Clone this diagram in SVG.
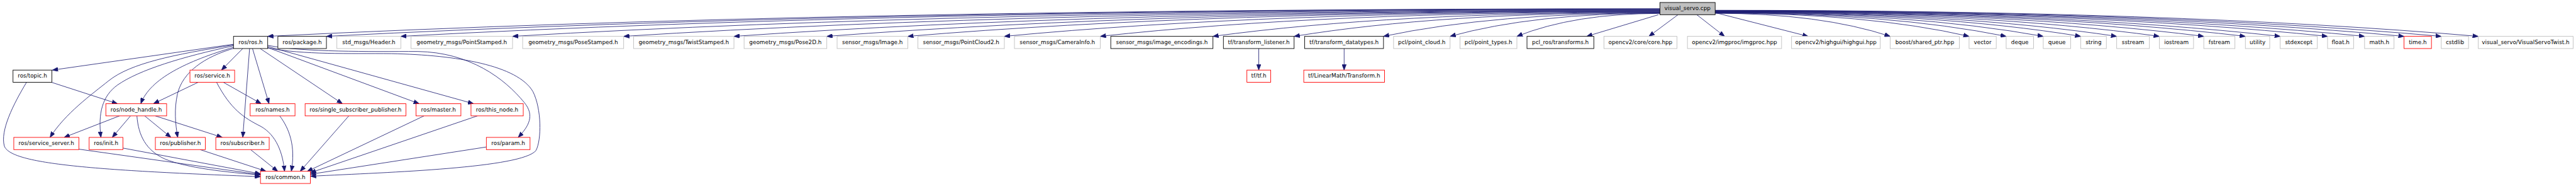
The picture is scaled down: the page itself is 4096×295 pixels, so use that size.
<svg xmlns="http://www.w3.org/2000/svg" width="4096" height="295" viewBox="0 0 4096 295">
<defs>
<style>
.n rect{fill:#fff;stroke-width:1.3}
.b rect{stroke:#000}
.r rect{stroke:#ff0000}
.g rect{stroke:#bfbfbf}
.root rect{fill:#bfbfbf;stroke:#000}
.n text{font-family:"DejaVu Sans","Liberation Sans",sans-serif;font-size:12.8px;text-anchor:middle;fill:#000}
.e path{fill:none;stroke:#191970;stroke-width:1.2;marker-end:url(#ah)}
</style>
<marker id="ah" viewBox="0 0 13 10" refX="13" refY="5" markerWidth="13" markerHeight="10" orient="auto" markerUnits="userSpaceOnUse"><path d="M0,0L13,5L0,10z" fill="#191970" stroke="#191970" stroke-width="1"/></marker>
</defs>
<rect width="4096" height="295" fill="#fff"/>
<g transform="scale(0.69178)">
<g id="edges" class="e">
<path d="M3815.3,20 Q1895.3,20 615.3,83.3"/>
<path d="M3815.3,20.5 Q1976.3,20.5 750.3,83.3"/>
<path d="M3815.3,21.1 Q2078.9,21.1 921.3,83.3"/>
<path d="M3815.3,22.1 Q2233,22.1 1178.1,83.3"/>
<path d="M3815.3,23.1 Q2386.2,23.1 1433.5,83.3"/>
<path d="M3815.3,24 Q2538.3,24 1687,83.3"/>
<path d="M3815.3,24.8 Q2666.4,24.8 1900.4,83.3"/>
<path d="M3815.3,25.5 Q2778.1,25.5 2086.6,83.3"/>
<path d="M3815.3,26.3 Q2911.2,26.3 2308.5,83.3"/>
<path d="M3815.3,27.2 Q3043.5,27.2 2529,83.3"/>
<path d="M3815.3,28.1 Q3198.9,28.1 2788,83.3"/>
<path d="M3815.3,28.8 Q3310.9,28.8 2974.6,83.3"/>
<path d="M3815.3,29.6 Q3434.1,29.6 3179.9,83.3"/>
<path d="M3815.3,30.2 Q3525.9,30.2 3333,83.3"/>
<path d="M3815.3,30.8 Q3618.1,30.8 3486.6,83.3"/>
<path d="M3812,33.7 L3647,83.3"/>
<path d="M3857,33.7 L3790,83.3"/>
<path d="M3900,33.7 L3964,83.3"/>
<path d="M3942.3,29 L4156,83.3"/>
<path d="M3942.3,30.5 Q4183.7,30.5 4344.6,83.3"/>
<path d="M3942.3,30 Q4292.5,30 4525.9,83.3"/>
<path d="M3942.3,29.5 Q4343.6,29.5 4611.2,83.3"/>
<path d="M3942.3,29 Q4394.8,29 4696.4,83.3"/>
<path d="M3942.3,28.5 Q4446.5,28.5 4782.6,83.3"/>
<path d="M3942.3,28 Q4496,28 4865.2,83.3"/>
<path d="M3942.3,27.5 Q4554.8,27.5 4963.2,83.3"/>
<path d="M3942.3,27 Q4616.2,27 5065.4,83.3"/>
<path d="M3942.3,26.5 Q4673.5,26.5 5161,83.3"/>
<path d="M3942.3,26 Q4721.6,26 5241.1,83.3"/>
<path d="M3942.3,25.5 Q4786.9,25.5 5349.9,83.3"/>
<path d="M3942.3,25 Q4837.9,25 5435,83.3"/>
<path d="M3942.3,24.5 Q4892.3,24.5 5525.7,83.3"/>
<path d="M3942.3,24 Q4943.7,24 5611.3,83.3"/>
<path d="M3942.3,23.5 Q4994.7,23.5 5696.3,83.3"/>
<path d="M2893.3,111.3 L2893.3,160.7"/>
<path d="M3089.5,111.3 L3089.5,160.7"/>
<path d="M536.7,101.5 L120.5,160.7"/>
<path d="M536.7,103 C400,125 300,145 250,185 C210,217 150,260 115,315"/>
<path d="M536.7,105 C420,130 320,160 270,195 C235,220 225,260 232,315"/>
<path d="M538,108 C430,140 345,180 323.7,237.7"/>
<path d="M540,110 C470,130 420,165 408,215 C400,250 403,285 408.5,315"/>
<path d="M558,111.3 L509,160.7"/>
<path d="M573.7,111.3 L558,315"/>
<path d="M580.4,111.3 L618.3,237.7"/>
<path d="M598,111.3 L787,237.7"/>
<path d="M615.3,109 L963.4,237.7"/>
<path d="M615.3,106.5 L1088.4,237.7"/>
<path d="M615.3,104 C700,120 850,118 960,118 C1080,120 1160,180 1205,235 C1230,265 1215,290 1191,315"/>
<path d="M615.3,110 C700,126 800,122 900,123 C1050,126 1190,150 1225,210 C1245,250 1245,320 1232,345 C1200,385 900,395 713.4,404"/>
<path d="M61,188.7 C30,240 0,300 10,335 C25,375 200,390 598.7,405"/>
<path d="M118.3,188.7 L270,237.7"/>
<path d="M455.4,188.7 L352.7,237.7"/>
<path d="M513.4,188.7 L600.4,237.7"/>
<path d="M497.8,188.7 C530,250 560,270 600,290 C635,310 650,350 654,392.7"/>
<path d="M274.6,265.7 L147.3,315"/>
<path d="M300,265.7 L258,315"/>
<path d="M332.6,265.7 L392.9,315"/>
<path d="M357,265.7 L511,315"/>
<path d="M314.7,265.7 C318,310 335,345 380,365 C430,385 520,395 598.7,401"/>
<path d="M642.9,265.7 C665,295 680,335 669.6,392.7"/>
<path d="M181.3,342 L598.7,400.5"/>
<path d="M282.6,339.5 L598.7,398.5"/>
<path d="M459.8,343 L611.6,392.7"/>
<path d="M575.9,343 L638.4,392.7"/>
<path d="M801.8,265.7 L690,392.7"/>
<path d="M974.6,265.7 L706,393"/>
<path d="M1097.3,265.7 L713.4,396"/>
<path d="M1117.9,337 L713.4,399.5"/>
</g>
<g id="n_visual_servo_cpp" class="n root"><rect x="3815.3" y="5.7" width="127" height="28"/><text x="3878.8" y="23.2">visual_servo.cpp</text></g>
<g id="n_ros_ros_h" class="n b"><rect x="536.7" y="83.3" width="78.6" height="28"/><text x="576" y="100.8">ros/ros.h</text></g>
<g id="n_ros_package_h" class="n b"><rect x="638.7" y="83.3" width="111.6" height="28"/><text x="694.5" y="100.8">ros/package.h</text></g>
<g id="n_std_msgs_Header_h" class="n g"><rect x="774.3" y="83.3" width="147" height="28"/><text x="847.8" y="100.8">std_msgs/Header.h</text></g>
<g id="n_geometry_msgs_PointStamped_h" class="n g"><rect x="944.6" y="83.3" width="233.5" height="28"/><text x="1061.35" y="100.8">geometry_msgs/PointStamped.h</text></g>
<g id="n_geometry_msgs_PoseStamped_h" class="n g"><rect x="1201.3" y="83.3" width="232.2" height="28"/><text x="1317.4" y="100.8">geometry_msgs/PoseStamped.h</text></g>
<g id="n_geometry_msgs_TwistStamped_h" class="n g"><rect x="1456.3" y="83.3" width="230.7" height="28"/><text x="1571.65" y="100.8">geometry_msgs/TwistStamped.h</text></g>
<g id="n_geometry_msgs_Pose2D_h" class="n g"><rect x="1710.3" y="83.3" width="190.1" height="28"/><text x="1805.35" y="100.8">geometry_msgs/Pose2D.h</text></g>
<g id="n_sensor_msgs_Image_h" class="n g"><rect x="1924.1" y="83.3" width="162.5" height="28"/><text x="2005.35" y="100.8">sensor_msgs/Image.h</text></g>
<g id="n_sensor_msgs_PointCloud2_h" class="n g"><rect x="2109.8" y="83.3" width="198.7" height="28"/><text x="2209.15" y="100.8">sensor_msgs/PointCloud2.h</text></g>
<g id="n_sensor_msgs_CameraInfo_h" class="n g"><rect x="2331.7" y="83.3" width="197.3" height="28"/><text x="2430.35" y="100.8">sensor_msgs/CameraInfo.h</text></g>
<g id="n_sensor_msgs_image_encodings_h" class="n b"><rect x="2553.1" y="83.3" width="234.9" height="28"/><text x="2670.55" y="100.8">sensor_msgs/image_encodings.h</text></g>
<g id="n_tf_transform_listener_h" class="n b"><rect x="2812" y="83.3" width="162.5" height="28"/><text x="2893.25" y="100.8">tf/transform_listener.h</text></g>
<g id="n_tf_transform_datatypes_h" class="n b"><rect x="2998.7" y="83.3" width="181.3" height="28"/><text x="3089.35" y="100.8">tf/transform_datatypes.h</text></g>
<g id="n_pcl_point_cloud_h" class="n g"><rect x="3203.1" y="83.3" width="129.9" height="28"/><text x="3268.05" y="100.8">pcl/point_cloud.h</text></g>
<g id="n_pcl_point_types_h" class="n g"><rect x="3355.8" y="83.3" width="130.8" height="28"/><text x="3421.2" y="100.8">pcl/point_types.h</text></g>
<g id="n_pcl_ros_transforms_h" class="n b"><rect x="3509.8" y="83.3" width="153.6" height="28"/><text x="3586.6" y="100.8">pcl_ros/transforms.h</text></g>
<g id="n_opencv2_core_core_hpp" class="n g"><rect x="3686.6" y="83.3" width="167.9" height="28"/><text x="3770.55" y="100.8">opencv2/core/core.hpp</text></g>
<g id="n_opencv2_imgproc_imgproc_hpp" class="n g"><rect x="3878.6" y="83.3" width="216.4" height="28"/><text x="3986.8" y="100.8">opencv2/imgproc/imgproc.hpp</text></g>
<g id="n_opencv2_highgui_highgui_hpp" class="n g"><rect x="4117.9" y="83.3" width="204" height="28"/><text x="4219.9" y="100.8">opencv2/highgui/highgui.hpp</text></g>
<g id="n_boost_shared_ptr_hpp" class="n g"><rect x="4344.6" y="83.3" width="159" height="28"/><text x="4424.1" y="100.8">boost/shared_ptr.hpp</text></g>
<g id="n_vector" class="n g"><rect x="4525.9" y="83.3" width="62.5" height="28"/><text x="4557.15" y="100.8">vector</text></g>
<g id="n_deque" class="n g"><rect x="4611.2" y="83.3" width="62.9" height="28"/><text x="4642.65" y="100.8">deque</text></g>
<g id="n_queue" class="n g"><rect x="4696.4" y="83.3" width="63" height="28"/><text x="4727.9" y="100.8">queue</text></g>
<g id="n_string" class="n g"><rect x="4782.6" y="83.3" width="58.9" height="28"/><text x="4812.05" y="100.8">string</text></g>
<g id="n_sstream" class="n g"><rect x="4865.2" y="83.3" width="75.2" height="28"/><text x="4902.8" y="100.8">sstream</text></g>
<g id="n_iostream" class="n g"><rect x="4963.2" y="83.3" width="78.7" height="28"/><text x="5002.55" y="100.8">iostream</text></g>
<g id="n_fstream" class="n g"><rect x="5065.4" y="83.3" width="71.6" height="28"/><text x="5101.2" y="100.8">fstream</text></g>
<g id="n_utility" class="n g"><rect x="5161" y="83.3" width="56" height="28"/><text x="5189" y="100.8">utility</text></g>
<g id="n_stdexcept" class="n g"><rect x="5241.1" y="83.3" width="85.3" height="28"/><text x="5283.75" y="100.8">stdexcept</text></g>
<g id="n_float_h" class="n g"><rect x="5349.9" y="83.3" width="59.9" height="28"/><text x="5379.85" y="100.8">float.h</text></g>
<g id="n_math_h" class="n g"><rect x="5435" y="83.3" width="67.7" height="28"/><text x="5468.85" y="100.8">math.h</text></g>
<g id="n_time_h" class="n r"><rect x="5525.7" y="83.3" width="63" height="28"/><text x="5557.2" y="100.8">time.h</text></g>
<g id="n_cstdlib" class="n g"><rect x="5611.3" y="83.3" width="62.7" height="28"/><text x="5642.65" y="100.8">cstdlib</text></g>
<g id="n_visual_servo_VisualServoTwist_h" class="n g"><rect x="5696.3" y="83.3" width="218" height="28"/><text x="5805.3" y="100.8">visual_servo/VisualServoTwist.h</text></g>
<g id="n_ros_topic_h" class="n b"><rect x="29.9" y="160.7" width="89.3" height="28"/><text x="74.55" y="178.2">ros/topic.h</text></g>
<g id="n_ros_service_h" class="n r"><rect x="436.6" y="160.7" width="102.7" height="28"/><text x="487.95" y="178.2">ros/service.h</text></g>
<g id="n_tf_tf_h" class="n r"><rect x="2866" y="160.7" width="54.7" height="28"/><text x="2893.35" y="178.2">tf/tf.h</text></g>
<g id="n_tf_LinearMath_Transform_h" class="n r"><rect x="2996.7" y="160.7" width="185.6" height="28"/><text x="3089.5" y="178.2">tf/LinearMath/Transform.h</text></g>
<g id="n_ros_node_handle_h" class="n r"><rect x="243.3" y="237.7" width="139.7" height="28"/><text x="313.15" y="255.2">ros/node_handle.h</text></g>
<g id="n_ros_names_h" class="n r"><rect x="575" y="237.7" width="103.1" height="28"/><text x="626.55" y="255.2">ros/names.h</text></g>
<g id="n_ros_single_subscriber_publisher_h" class="n r"><rect x="701.3" y="237.7" width="231.7" height="28"/><text x="817.15" y="255.2">ros/single_subscriber_publisher.h</text></g>
<g id="n_ros_master_h" class="n r"><rect x="956.3" y="237.7" width="103.1" height="28"/><text x="1007.85" y="255.2">ros/master.h</text></g>
<g id="n_ros_this_node_h" class="n r"><rect x="1082.6" y="237.7" width="120.1" height="28"/><text x="1142.65" y="255.2">ros/this_node.h</text></g>
<g id="n_ros_service_server_h" class="n r"><rect x="31.7" y="315" width="149.6" height="28"/><text x="106.5" y="332.5">ros/service_server.h</text></g>
<g id="n_ros_init_h" class="n r"><rect x="204.9" y="315" width="77.7" height="28"/><text x="243.75" y="332.5">ros/init.h</text></g>
<g id="n_ros_publisher_h" class="n r"><rect x="357.1" y="315" width="114.8" height="28"/><text x="414.5" y="332.5">ros/publisher.h</text></g>
<g id="n_ros_subscriber_h" class="n r"><rect x="496" y="315" width="122.75" height="28"/><text x="557.4" y="332.5">ros/subscriber.h</text></g>
<g id="n_ros_param_h" class="n r"><rect x="1117.9" y="315" width="100.4" height="28"/><text x="1168.1" y="332.5">ros/param.h</text></g>
<g id="n_ros_common_h" class="n r"><rect x="598.7" y="392.7" width="114.7" height="28"/><text x="656.05" y="410.2">ros/common.h</text></g>
</g>
</svg>
